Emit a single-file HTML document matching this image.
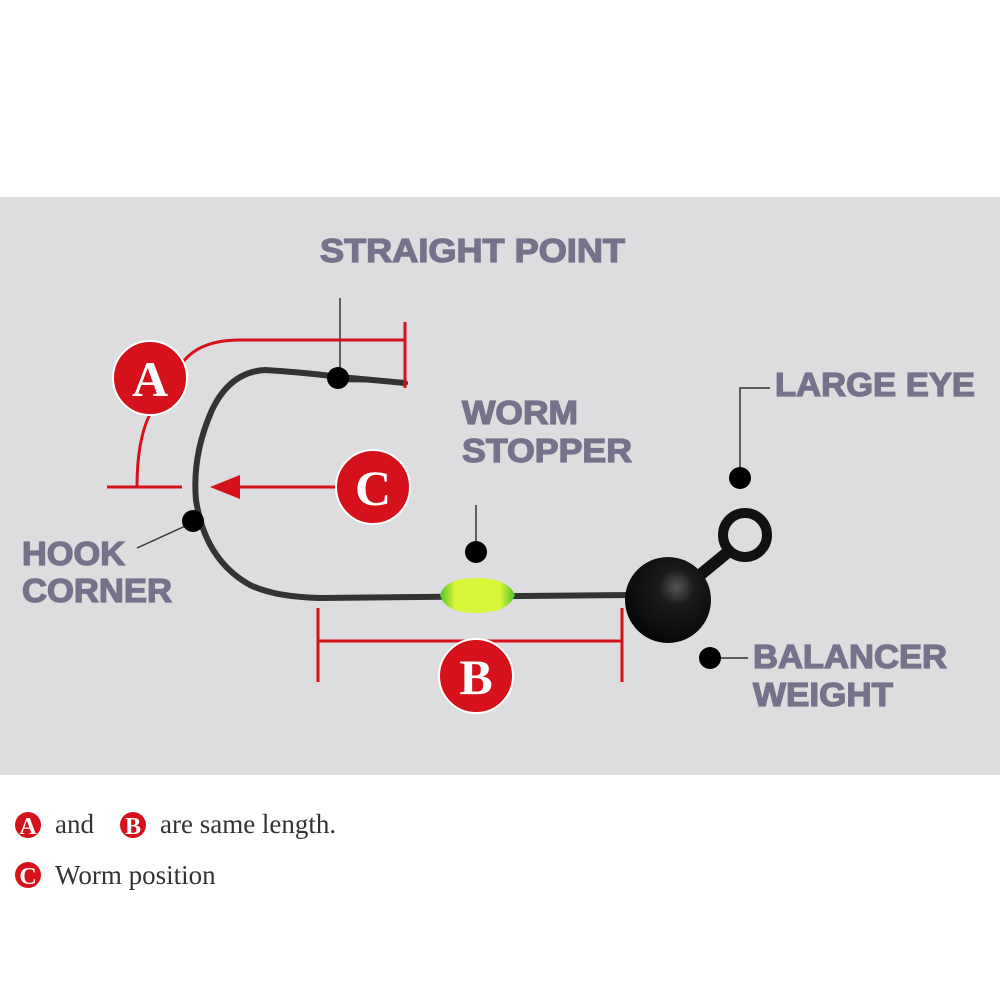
<!DOCTYPE html>
<html><head><meta charset="utf-8"><style>
html,body{margin:0;padding:0;background:#fff;}
svg{display:block;}
.l{font-family:"Liberation Sans",sans-serif;font-weight:bold;font-size:33px;fill:#75738b;stroke:#75738b;stroke-width:1.3;}
.w{font-family:"Liberation Serif",serif;font-weight:bold;fill:#fff;text-anchor:middle;}
.s{font-family:"Liberation Serif",serif;font-size:27px;fill:#333;}
</style></head><body>
<svg width="1000" height="1000" viewBox="0 0 1000 1000">
<defs>
<radialGradient id="ball" cx="0.6" cy="0.35" r="0.7"><stop offset="0" stop-color="#555"/><stop offset="0.3" stop-color="#1a1a1a"/><stop offset="1" stop-color="#050505"/></radialGradient>
<linearGradient id="bead" x1="0" y1="0" x2="1" y2="0"><stop offset="0" stop-color="#4fc42a"/><stop offset="0.2" stop-color="#d8f53a"/><stop offset="0.8" stop-color="#d8f53a"/><stop offset="1" stop-color="#4fc42a"/></linearGradient>
</defs>
<rect x="0" y="197" width="1000" height="578" fill="#dddde0"/>
<text class="l" x="320" y="262" textLength="305" lengthAdjust="spacingAndGlyphs">STRAIGHT POINT</text>
<text class="l" x="462" y="424" textLength="116" lengthAdjust="spacingAndGlyphs">WORM</text>
<text class="l" x="462" y="462" textLength="170" lengthAdjust="spacingAndGlyphs">STOPPER</text>
<text class="l" x="775" y="396" textLength="200" lengthAdjust="spacingAndGlyphs">LARGE EYE</text>
<text class="l" x="22" y="565" textLength="103" lengthAdjust="spacingAndGlyphs">HOOK</text>
<text class="l" x="22" y="602" textLength="150" lengthAdjust="spacingAndGlyphs">CORNER</text>
<text class="l" x="753" y="668" textLength="194" lengthAdjust="spacingAndGlyphs">BALANCER</text>
<text class="l" x="753" y="706" textLength="140" lengthAdjust="spacingAndGlyphs">WEIGHT</text>
<path d="M405,383 L340,377 Q300,372 265,370 Q230,372 212,410 Q192,455 196,500 Q205,560 250,585 Q275,597 320,598 L630,595" fill="none" stroke="#333" stroke-width="6" stroke-linecap="round"/>
<path d="M405,383 L330,373 L330,382 Z" fill="#333"/>
<path d="M440,595 Q445,578 476,578 Q508,578 515,595 Q508,613 476,613 Q445,613 440,595Z" fill="url(#bead)"/>
<circle cx="745" cy="535" r="22" fill="none" stroke="#111" stroke-width="10"/>
<path d="M700,575 L728,552" stroke="#111" stroke-width="12"/>
<circle cx="668" cy="600" r="43" fill="url(#ball)"/>
<g stroke="#333" stroke-width="1.5" fill="none">
<path d="M340,298 V377"/>
<path d="M770,388 H740 V480"/>
<path d="M476,505 V550"/>
<path d="M192,523 L137,548"/>
<path d="M710,658 H748"/>
</g>
<g fill="#000">
<circle cx="338" cy="378" r="11"/>
<circle cx="740" cy="478" r="11"/>
<circle cx="476" cy="552" r="11"/>
<circle cx="193" cy="521" r="11"/>
<circle cx="710" cy="658" r="11"/>
</g>
<g stroke="#d5121b" stroke-width="3" fill="none">
<path d="M183,362 Q200,340 240,340 H405"/>
<path d="M405,322 V388"/>
<path d="M150,414 Q137,440 137,487"/>
<path d="M107,487 H182"/>
<path d="M336,487 H235"/>
<path d="M318,641 H622"/>
<path d="M318,608 V682"/>
<path d="M622,608 V682"/>
</g>
<path d="M210,487 L240,475 L240,499 Z" fill="#d5121b"/>
<g fill="#d5121b" stroke="#fff" stroke-width="2">
<circle cx="150" cy="378" r="37"/>
<circle cx="373" cy="487" r="37"/>
<circle cx="476" cy="676" r="37"/>
</g>
<text class="w" x="150" y="396" font-size="50">A</text>
<text class="w" x="373" y="505" font-size="50">C</text>
<text class="w" x="476" y="694" font-size="50">B</text>
<g fill="#d5121b">
<circle cx="28" cy="825" r="13"/>
<circle cx="133" cy="825" r="13"/>
<circle cx="28" cy="875" r="13"/>
</g>
<text class="w" x="28" y="834" font-size="24">A</text>
<text class="w" x="133" y="834" font-size="24">B</text>
<text class="w" x="28" y="884" font-size="24">C</text>
<text class="s" x="55" y="833">and</text>
<text class="s" x="160" y="833">are same length.</text>
<text class="s" x="55" y="884">Worm position</text>
</svg>
</body></html>
